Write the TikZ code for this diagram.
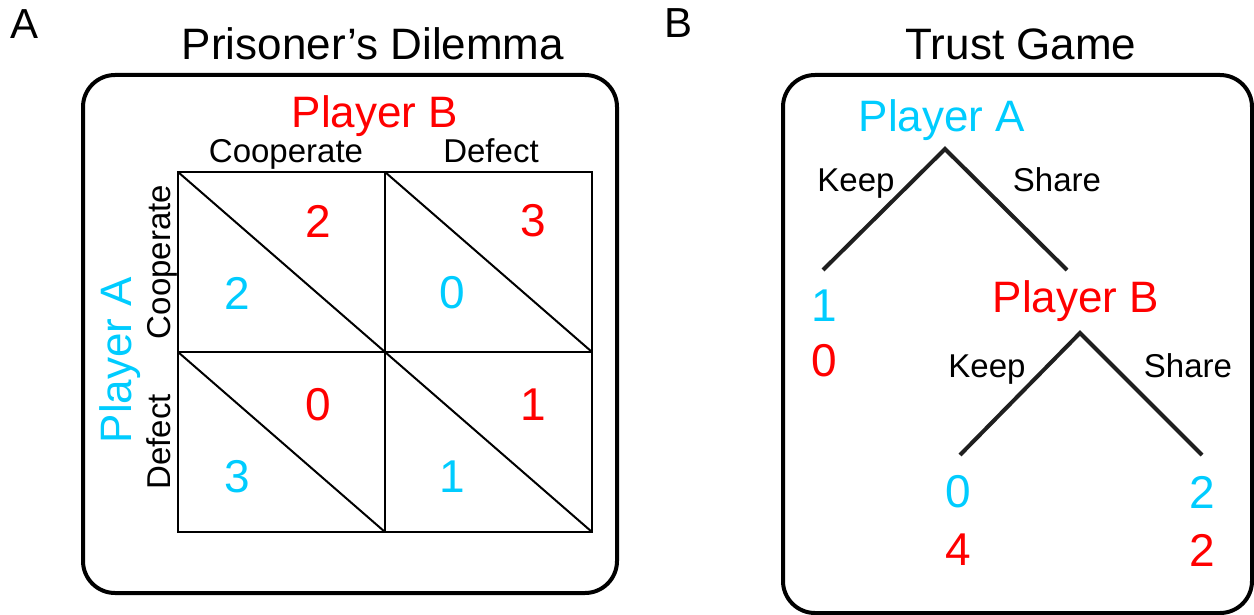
\documentclass[tikz,border=0pt]{standalone}
\usepackage{fontspec}
\setmainfont{Liberation Sans}
\definecolor{pred}{RGB}{255,0,0}
\definecolor{pcyan}{RGB}{0,204,255}
\tikzset{
  lbl/.style={inner sep=0pt, anchor=base},
  fbig/.style={font=\fontsize{44}{50}\selectfont},
  flet/.style={font=\fontsize{42}{48}\selectfont},
  fmed/.style={font=\fontsize{33}{38}\selectfont},
  fnum/.style={font=\fontsize{46}{50}\selectfont, inner sep=0pt},
  panel/.style={draw, line width=4pt, rounded corners=32pt},
  gridline/.style={line width=2pt},
  branch/.style={line width=4pt, draw=black!88},
}
\begin{document}
\begin{tikzpicture}[x=1pt,y=-1pt]
\useasboundingbox (0,0) rectangle (1254,615);
% ---------------- Panel A ----------------
\node[lbl, flet] (labA) at (25,39) {A};
\node[lbl, fbig] (titleA) at (373,60) {Prisoner’s Dilemma};
\draw[panel] (83,75) rectangle (617,593);
\node[lbl, fbig, text=pred] (pbA) at (375,128) {Player B};
\node[lbl, fmed] (colC) at (286,163) {Cooperate};
\node[lbl, fmed] (colD) at (491,163) {Defect};
\node[lbl, fmed, rotate=90] (rowC) at (170,262) {Cooperate};
\node[lbl, fmed, rotate=90] (rowD) at (170,442) {Defect};
\node[lbl, fbig, text=pcyan, rotate=90] (paA) at (131,360) {Player A};
% grid
\coordinate (g00) at (178,172);
\coordinate (g10) at (385,172);
\coordinate (g20) at (592,172);
\coordinate (g01) at (178,352);
\coordinate (g11) at (385,352);
\coordinate (g21) at (592,352);
\coordinate (g02) at (178,532);
\coordinate (g12) at (385,532);
\coordinate (g22) at (592,532);
\draw[gridline] (g00) rectangle (g22);
\draw[gridline] (g10) -- (g12);
\draw[gridline] (g01) -- (g21);
\draw[gridline] (g00) -- (g11);
\draw[gridline] (g10) -- (g21);
\draw[gridline] (g01) -- (g12);
\draw[gridline] (g11) -- (g22);
% payoffs
\node[fnum, text=pred]  (n1) at (318,221) {2};
\node[fnum, text=pcyan] (n2) at (237,293) {2};
\node[fnum, text=pred]  (n3) at (533,221) {3};
\node[fnum, text=pcyan] (n4) at (452,293) {0};
\node[fnum, text=pred]  (n5) at (318,405) {0};
\node[fnum, text=pcyan] (n6) at (237,477) {3};
\node[fnum, text=pred]  (n7) at (533,405) {1};
\node[fnum, text=pcyan] (n8) at (452,477) {1};
% ---------------- Panel B ----------------
\node[lbl, flet] (labB) at (679,38) {B};
\node[lbl, fbig] (titleB) at (1021,60) {Trust Game};
\draw[panel] (783,75) rectangle (1252,613);
\node[lbl, fbig, text=pcyan] (tpa) at (942,132) {Player A};
\coordinate (ap1) at (945,149);
\coordinate (l1) at (823,270);
\coordinate (r1) at (1067,270);
\draw[branch] (l1) -- (ap1) -- (r1);
\node[lbl, fmed] (k1) at (856,192) {Keep};
\node[lbl, fmed] (s1) at (1057,192) {Share};
\node[fnum, text=pcyan] (t1) at (824,306) {1};
\node[fnum, text=pred]  (t2) at (824,361) {0};
\node[lbl, fbig, text=pred] (tpb) at (1076,312) {Player B};
\coordinate (ap2) at (1080,333);
\coordinate (l2) at (960,455);
\coordinate (r2) at (1202,455);
\draw[branch] (l2) -- (ap2) -- (r2);
\node[lbl, fmed] (k2) at (987,377) {Keep};
\node[lbl, fmed] (s2) at (1188,377) {Share};
\node[fnum, text=pcyan] (t3) at (958,492) {0};
\node[fnum, text=pred]  (t4) at (958,550) {4};
\node[fnum, text=pcyan] (t5) at (1202,492) {2};
\node[fnum, text=pred]  (t6) at (1202,550) {2};
\end{tikzpicture}
\end{document}
